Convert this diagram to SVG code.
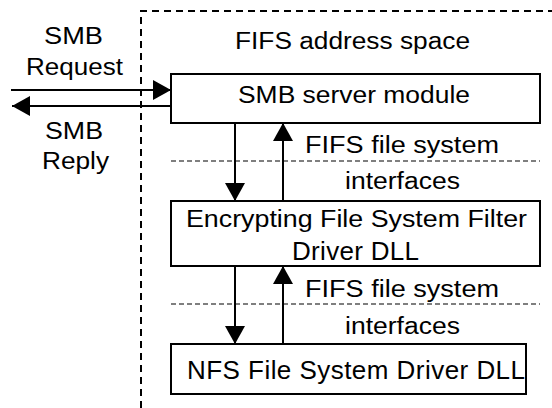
<svg xmlns="http://www.w3.org/2000/svg" width="552" height="408" viewBox="0 0 552 408">
<style>
text{font-family:"Liberation Sans",Arial,sans-serif;font-size:23px;fill:#000;text-anchor:middle}
.big{font-size:26px}
.box{fill:#fff;stroke:#000;stroke-width:2}
.conn{stroke:#000;stroke-width:2;fill:none}
.outer{stroke:#000;stroke-width:2;stroke-dasharray:7 5;fill:none}
.sep{stroke:#000;stroke-width:1.2;stroke-dasharray:5 3;fill:none}
</style>
<defs>
<marker id="ahb" viewBox="0 0 18 20" refX="18" refY="10" markerWidth="18" markerHeight="20" markerUnits="userSpaceOnUse" orient="auto">
<path d="M0,0 L18,10 L0,20 Z" fill="#000"/>
</marker>
</defs>
<g id="boundary">
<path class="outer" d="M141,408 L141,11 L552,11"/>
<text x="352.5" y="49" textLength="235" lengthAdjust="spacingAndGlyphs">FIFS address space</text>
</g>
<g id="separators">
<line class="sep" x1="171" y1="161" x2="540" y2="161"/>
<line class="sep" x1="171" y1="304" x2="540" y2="304"/>
</g>
<g id="smb-server">
<rect class="box" x="171" y="74" width="369" height="49"/>
<text x="354" y="103" textLength="232" lengthAdjust="spacingAndGlyphs">SMB server module</text>
</g>
<g id="efs-filter">
<rect class="box" x="171" y="201" width="369" height="65"/>
<text x="356.5" y="227" textLength="341" lengthAdjust="spacingAndGlyphs">Encrypting File System Filter</text>
<text class="big" x="355.5" y="260" textLength="127" lengthAdjust="spacing">Driver DLL</text>
</g>
<g id="nfs-driver">
<rect class="box" x="171" y="344" width="355" height="50"/>
<text class="big" x="356" y="379" textLength="338" lengthAdjust="spacing">NFS File System Driver DLL</text>
</g>
<g id="labels">
<text x="73.5" y="44" textLength="59" lengthAdjust="spacingAndGlyphs">SMB</text>
<text x="74.5" y="75" textLength="97" lengthAdjust="spacingAndGlyphs">Request</text>
<text x="74" y="139" textLength="58" lengthAdjust="spacingAndGlyphs">SMB</text>
<text x="75.5" y="169" textLength="67" lengthAdjust="spacingAndGlyphs">Reply</text>
<text x="402" y="153" textLength="194" lengthAdjust="spacingAndGlyphs">FIFS file system</text>
<text x="402.5" y="189" textLength="115" lengthAdjust="spacingAndGlyphs">interfaces</text>
<text x="402" y="297" textLength="194" lengthAdjust="spacingAndGlyphs">FIFS file system</text>
<text x="402.5" y="334" textLength="115" lengthAdjust="spacingAndGlyphs">interfaces</text>
</g>
<g id="connectors">
<line class="conn" x1="11" y1="90" x2="171" y2="90" marker-end="url(#ahb)"/>
<line class="conn" x1="171" y1="106" x2="12" y2="106" marker-end="url(#ahb)"/>
<line class="conn" x1="235" y1="123" x2="235" y2="201" marker-end="url(#ahb)"/>
<line class="conn" x1="283" y1="201" x2="283" y2="123" marker-end="url(#ahb)"/>
<line class="conn" x1="235" y1="266" x2="235" y2="344" marker-end="url(#ahb)"/>
<line class="conn" x1="283" y1="344" x2="283" y2="266" marker-end="url(#ahb)"/>
</g>
</svg>
